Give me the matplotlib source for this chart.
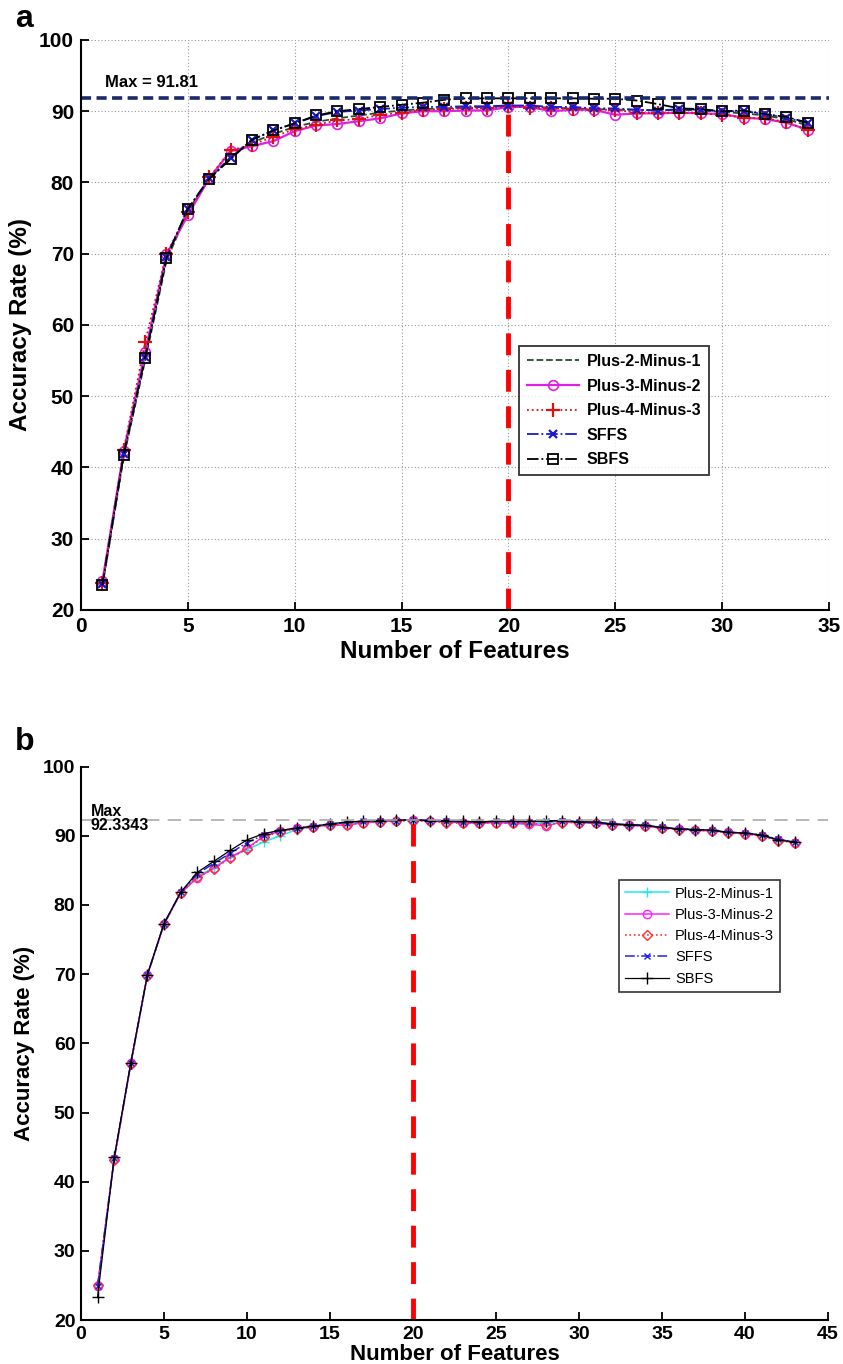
import numpy as np
import matplotlib
matplotlib.use('Agg')
import matplotlib.pyplot as plt

plt.rcParams['font.family'] = ['Liberation Sans', 'DejaVu Sans']

# ---- panel a data (x = 1..34) ----
feat_a = list(range(1, 35))
p21_a = [23.3, 41.5, 55.0, 69.0, 76.0, 80.5, 83.6, 85.6, 86.8, 87.8, 88.5, 89.0,
         89.4, 89.8, 90.1, 90.3, 90.4, 90.5, 90.6, 90.7, 90.6, 90.5, 90.4, 90.3,
         90.2, 90.2, 90.1, 90.2, 90.1, 89.9, 89.7, 89.4, 88.9, 88.0]
p32_a = [24.0, 42.3, 56.2, 69.9, 75.4, 80.6, 84.4, 85.1, 85.8, 87.2, 88.0, 88.2,
         88.6, 89.0, 89.7, 90.0, 90.0, 90.1, 90.1, 90.6, 90.6, 90.0, 90.2, 90.2,
         89.5, 89.7, 89.7, 89.8, 89.7, 89.6, 89.1, 88.9, 88.4, 87.4]
p43_a = [23.8, 42.5, 57.6, 70.0, 75.8, 80.7, 84.5, 85.3, 86.4, 87.5, 88.1, 88.7,
         88.9, 89.5, 89.8, 90.2, 90.3, 90.4, 90.4, 90.7, 90.5, 90.4, 90.3, 90.2,
         90.2, 89.8, 89.7, 89.8, 89.7, 89.5, 89.1, 89.0, 88.5, 87.3]
sffs_a = [23.6, 41.9, 55.5, 69.5, 76.3, 80.6, 83.4, 86.0, 87.3, 88.3, 89.3, 89.9,
          90.1, 90.3, 90.5, 90.6, 90.6, 90.7, 90.7, 90.8, 90.8, 90.6, 90.6, 90.4,
          90.4, 90.2, 90.1, 90.3, 90.2, 90.0, 90.0, 89.6, 89.1, 88.3]
sbfs_a = [23.5, 41.8, 55.4, 69.4, 76.3, 80.5, 83.3, 86.0, 87.3, 88.3, 89.4, 90.0,
          90.3, 90.6, 90.9, 91.2, 91.6, 91.81, 91.81, 91.81, 91.81, 91.81, 91.81, 91.75,
          91.75, 91.5, 91.0, 90.4, 90.3, 90.0, 90.1, 89.6, 89.2, 88.4]
max_a = 91.81
best_a = 20

# ---- panel b data (x = 1..43) ----
feat_b = list(range(1, 44))
p21_b = [25.0, 43.3, 57.1, 69.9, 77.3, 81.8, 84.1, 85.4, 86.9, 88.0, 89.1, 90.0,
         90.9, 91.3, 91.6, 91.8, 92.0, 92.1, 92.2, 92.3, 92.2, 92.0, 91.9, 92.0,
         92.0, 91.9, 91.6, 91.9, 92.1, 92.0, 91.9, 91.7, 91.6, 91.5, 91.2, 91.0,
         90.9, 90.8, 90.5, 90.4, 90.1, 89.5, 89.1]
p32_b = [24.9, 43.3, 57.1, 69.9, 77.2, 81.7, 83.9, 85.3, 86.9, 88.2, 89.9, 90.7,
         91.1, 91.3, 91.6, 91.5, 91.9, 92.0, 92.2, 92.3, 92.1, 92.0, 91.9, 91.8,
         91.9, 91.8, 91.7, 91.4, 92.0, 91.9, 91.8, 91.6, 91.5, 91.4, 91.1, 91.0,
         90.8, 90.7, 90.5, 90.3, 90.0, 89.4, 89.0]
p43_b = [25.0, 43.2, 57.0, 69.8, 77.2, 81.7, 84.0, 85.2, 86.8, 88.1, 89.8, 90.6,
         91.0, 91.3, 91.5, 91.6, 91.9, 92.0, 92.1, 92.2, 92.1, 91.9, 91.8, 91.8,
         91.9, 91.8, 91.8, 91.6, 91.9, 91.9, 91.8, 91.6, 91.5, 91.4, 91.1, 90.9,
         90.8, 90.7, 90.4, 90.3, 90.0, 89.3, 89.0]
sffs_b = [24.9, 43.4, 57.1, 69.9, 77.3, 81.8, 84.5, 86.0, 87.5, 89.0, 90.1, 90.7,
          91.1, 91.4, 91.7, 91.9, 92.1, 92.2, 92.2, 92.3, 92.2, 92.1, 92.0, 92.0,
          92.1, 92.0, 92.0, 92.1, 92.2, 92.0, 91.9, 91.7, 91.6, 91.5, 91.2, 91.0,
          90.9, 90.8, 90.5, 90.4, 90.1, 89.5, 89.1]
sbfs_b = [23.4, 43.5, 57.2, 69.9, 77.3, 81.8, 84.7, 86.3, 87.9, 89.4, 90.3, 90.8,
          91.1, 91.4, 91.7, 92.0, 92.1, 92.2, 92.25, 92.33, 92.2, 92.2, 92.1, 92.0,
          92.1, 92.1, 92.1, 92.15, 92.2, 92.0, 92.0, 91.7, 91.6, 91.5, 91.2, 91.0,
          90.9, 90.8, 90.5, 90.4, 90.1, 89.4, 89.1]
max_b = 92.3343
best_b = 20

names = ['Plus-2-Minus-1', 'Plus-3-Minus-2', 'Plus-4-Minus-3', 'SFFS', 'SBFS']

fig = plt.figure(figsize=(8.43, 13.64), dpi=100)

# ================= panel a =================
ax = fig.add_axes([0.0961, 0.5528, 0.8873, 0.4179])
ax.plot(feat_a, p21_a, '--', color='#1f4f2f', lw=1.3, label=names[0])
ax.plot(feat_a, p32_a, '-', color='#e020e0', lw=1.6, marker='o', ms=7, mfc='none', mew=1.2, label=names[1])
ax.plot(feat_a, p43_a, ':', color='#e01010', lw=1.3, marker='+', ms=10, mew=1.6, label=names[2])
ax.plot(feat_a, sffs_a, '-.', color='#1a1acc', lw=1.3, marker='x', ms=6, mew=1.6, label=names[3])
ax.plot(feat_a, sbfs_a, '-.', color='black', lw=1.3, marker='s', ms=7, mfc='none', mew=1.3, label=names[4])
ax.axhline(max_a, color='#1a2a6a', ls=(0, (2.8, 1.5)), lw=2.6)
ax.plot([best_a, best_a], [20, 90.7], color='red', ls=(0, (4.5, 3)), lw=3.5)
ax.text(1.1, max_a + 2.2, 'Max = %.2f' % max_a, fontsize=12, fontweight='bold', va='center')

ax.set_xlim(0, 35)
ax.set_ylim(20, 100)
ax.set_xticks(range(0, 36, 5))
ax.set_yticks(range(20, 101, 10))
ax.grid(True, ls=(0, (1, 2)), color='#999999', lw=0.8)
for s in ['top', 'right']:
    ax.spines[s].set_visible(False)
for s in ['left', 'bottom']:
    ax.spines[s].set_linewidth(1.5)
ax.tick_params(direction='in', length=6, width=1.3, labelsize=15, pad=5)
for lab in ax.get_xticklabels() + ax.get_yticklabels():
    lab.set_fontweight('bold')
ax.set_xlabel('Number of Features', fontsize=17.5, fontweight='bold', labelpad=3)
ax.set_ylabel('Accuracy Rate (%)', fontsize=17.5, fontweight='bold', labelpad=5)
leg = ax.legend(loc='upper left', bbox_to_anchor=(0.585, 0.463),
                prop={'weight': 'bold', 'size': 11.5}, frameon=True, fancybox=False,
                edgecolor='black', handlelength=3.3, handletextpad=0.45,
                labelspacing=0.6, borderpad=0.5, borderaxespad=0)
leg.get_frame().set_linewidth(1.3)
fig.text(0.018, 0.986, 'a', fontsize=23, fontweight='bold', va='center')

# ================= panel b =================
bx = fig.add_axes([0.0961, 0.0322, 0.886, 0.4058])
bx.plot(feat_b, p21_b, '-', color='#22e8e8', lw=1.1, marker='+', ms=7, mew=1.0, label=names[0])
bx.plot(feat_b, p32_b, '-', color='#ff22ff', lw=1.1, marker='o', ms=6, mfc='none', mew=1.0, label=names[1])
bx.plot(feat_b, p43_b, ':', color='#ff3030', lw=1.2, marker='D', ms=5, mfc='none', mew=1.0, label=names[2])
bx.plot(feat_b, sffs_b, '-.', color='#2020ee', lw=1.1, marker='x', ms=4, mew=1.0, label=names[3])
bx.plot(feat_b, sbfs_b, '-', color='black', lw=0.9, marker='+', ms=8, mew=1.0, label=names[4])
bx.axhline(max_b, color='#aaaaaa', ls=(0, (8, 5)), lw=1.2)
bx.plot([best_b, best_b], [20, 92.2], color='red', ls=(0, (4.5, 3)), lw=3.5)
bx.text(0.6, max_b + 0.2, 'Max\n%.4f' % max_b, fontsize=11.5, fontweight='bold',
        va='center', linespacing=0.95)

bx.set_xlim(0, 45)
bx.set_ylim(20, 100)
bx.set_xticks(range(0, 46, 5))
bx.set_yticks(range(20, 101, 10))
for s in ['top', 'right']:
    bx.spines[s].set_visible(False)
for s in ['left', 'bottom']:
    bx.spines[s].set_linewidth(1.5)
bx.tick_params(direction='in', length=6, width=1.3, labelsize=14, pad=4)
for lab in bx.get_xticklabels() + bx.get_yticklabels():
    lab.set_fontweight('bold')
bx.set_xlabel('Number of Features', fontsize=16, fontweight='bold', labelpad=1)
bx.set_ylabel('Accuracy Rate (%)', fontsize=16, fontweight='bold', labelpad=6)
leg2 = bx.legend(loc='upper left', bbox_to_anchor=(0.720, 0.795), fontsize=10.5,
                 frameon=True, fancybox=False, edgecolor='black', handlelength=3.0,
                 labelspacing=0.5, borderpad=0.45, handletextpad=0.4, borderaxespad=0)
leg2.get_frame().set_linewidth(1.2)
fig.text(0.018, 0.456, 'b', fontsize=23, fontweight='bold', va='center')

fig.savefig('out.png', dpi=100)
